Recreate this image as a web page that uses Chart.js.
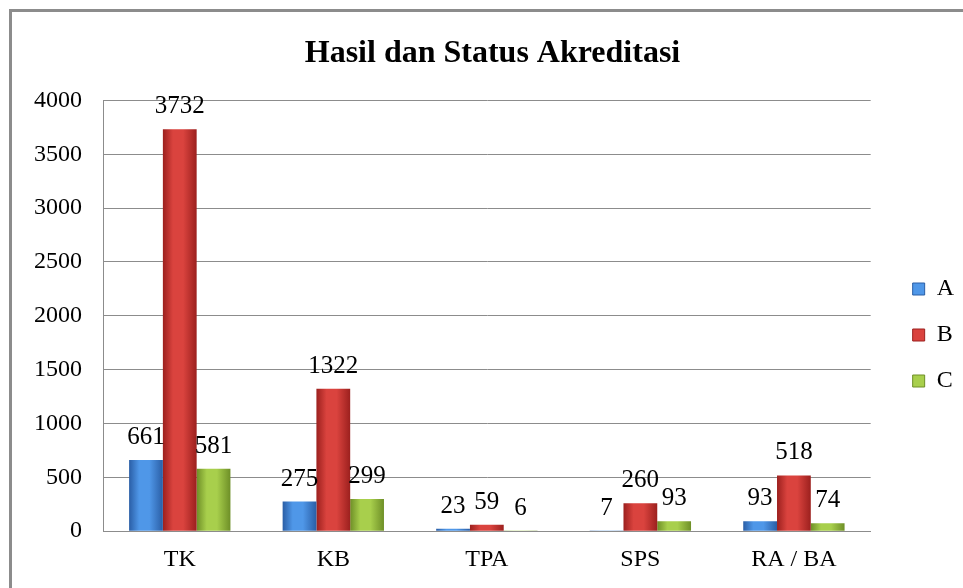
<!DOCTYPE html>
<html>
<head>
<meta charset="utf-8">
<script src="https://cdn.jsdelivr.net/npm/chart.js@4/dist/chart.umd.min.js"></script>
<style>
    body { margin: 0; background: #fff; }
    #wrap { position: relative; width: 963px; height: 588px; }
    #frame {
        position: absolute; left: 9px; top: 9px; width: 980px; height: 600px;
        border: 3px solid #8c8c8c; box-sizing: border-box; pointer-events: none;
    }
</style>
</head>
<body>
<div id="wrap">
    <canvas id="akreditasiChart" width="963" height="588"></canvas>
    <div id="frame"></div>
</div>
<script>
const categories = ["TK", "KB", "TPA", "SPS", "RA / BA"];
const nilaiA = [661, 275, 23, 7, 93];
const nilaiB = [3732, 1322, 59, 260, 518];
const nilaiC = [581, 299, 6, 93, 74];
const yTicks = [0, 500, 1000, 1500, 2000, 2500, 3000, 3500, 4000];

const SERIF = "'Liberation Serif', 'Times New Roman', serif";
const CAT_PCT = 0.66;

// warna: [tepi, tengah]
const colors = [
    ["#2a5ea6", "#4f97e8"],
    ["#9c201e", "#da433e"],
    ["#6e8f27", "#a8cf4c"],
];

// gradien horizontal per batang supaya mirip efek 3D Excel
function barGradient(ctx, dsIndex) {
    const chart = ctx.chart;
    const xScale = chart.scales.x;
    if (!chart.chartArea || !xScale || ctx.dataIndex === undefined) return colors[dsIndex][1];
    const catW = xScale.width / categories.length;
    const barW = catW * CAT_PCT / 3;
    const center = xScale.getPixelForValue(ctx.dataIndex) + (dsIndex - 1) * barW;
    const x0 = center - barW / 2, x1 = center + barW / 2;
    const g = chart.ctx.createLinearGradient(x0, 0, x1, 0);
    g.addColorStop(0, colors[dsIndex][0]);
    g.addColorStop(0.3, colors[dsIndex][1]);
    g.addColorStop(0.6, colors[dsIndex][1]);
    g.addColorStop(1, colors[dsIndex][0]);
    return g;
}

// tulis nilai di atas setiap batang
const valueLabels = {
    id: "valueLabels",
    afterDatasetsDraw(chart) {
        const c = chart.ctx;
        c.save();
        c.font = "25px " + SERIF;
        c.fillStyle = "#000";
        c.textAlign = "center";
        c.textBaseline = "bottom";
        chart.data.datasets.forEach((ds, i) => {
            chart.getDatasetMeta(i).data.forEach((bar, j) => {
                c.fillText(String(ds.data[j]), bar.x, bar.y - 10);
            });
        });
        c.restore();
    }
};

// geser judul dan legenda sedikit, seperti pada gambar Excel aslinya
const nudgeBoxes = {
    id: "nudgeBoxes",
    afterLayout(chart) {
        if (chart.titleBlock) {
            chart.titleBlock.left += 10;
            chart.titleBlock.right += 10;
        }
        if (chart.legend) {
            chart.legend.left += 20;
            chart.legend.right += 20;
            chart.legend.top += 26;
            chart.legend.bottom += 26;
        }
    }
};

const data = {
    labels: categories,
    datasets: [
        { label: "A", data: nilaiA },
        { label: "B", data: nilaiB },
        { label: "C", data: nilaiC },
    ],
};
data.datasets.forEach((ds, i) => {
    ds.backgroundColor = (ctx) => barGradient(ctx, i);
    ds.borderWidth = 0;
    ds.barPercentage = 1;
    ds.categoryPercentage = CAT_PCT;
});

const config = {
    type: "bar",
    data: data,
    options: {
        responsive: false,
        animation: false,
        layout: { padding: { left: 21, right: 19, top: 30, bottom: 0 } },
        plugins: {
            title: {
                display: true,
                text: "Hasil dan Status Akreditasi",
                color: "#000",
                font: { family: SERIF, size: 32, weight: "bold" },
                padding: { top: 5, bottom: 27 },
            },
            legend: {
                position: "right",
                labels: {
                    color: "#000",
                    font: { family: SERIF, size: 24 },
                    boxWidth: 12,
                    boxHeight: 12,
                    padding: 22,
                    generateLabels(chart) {
                        return chart.data.datasets.map((ds, i) => ({
                            text: ds.label,
                            fillStyle: colors[i][1],
                            strokeStyle: colors[i][0],
                            fontColor: "#000",
                            lineWidth: 1,
                            datasetIndex: i,
                        }));
                    },
                },
            },
            tooltip: { enabled: false },
        },
        scales: {
            x: {
                grid: { display: false, drawTicks: false },
                border: { color: "#8c8c8c" },
                ticks: { color: "#000", font: { family: SERIF, size: 24 }, padding: 14 },
            },
            y: {
                min: 0,
                max: 4000,
                afterBuildTicks(axis) { axis.ticks = yTicks.map(v => ({ value: v })); },
                afterFit(axis) { axis.width = 82; },
                grid: { color: "#8c8c8c", drawTicks: false },
                border: { color: "#8c8c8c" },
                ticks: {
                    color: "#000",
                    font: { family: SERIF, size: 24 },
                    padding: 21,
                    callback: (v) => String(v),
                },
            },
        },
    },
    plugins: [valueLabels, nudgeBoxes],
};

const ctx = document.getElementById("akreditasiChart").getContext("2d");
const akreditasiChart = new Chart(ctx, config);
</script>
</body>
</html>
